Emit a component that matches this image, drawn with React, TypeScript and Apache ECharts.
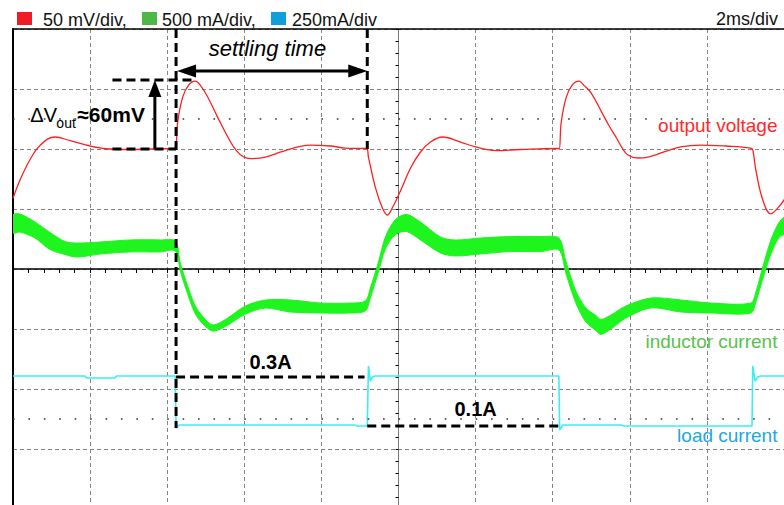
import React, { useEffect, useRef } from "react";
import * as echarts from "echarts";

// ---- channel scales (per division) ----
const V_PER_DIV = 50; // mV/div
const V_OFFSET = 2; // divisions
const IL_PER_DIV = 500; // mA/div
const IL_OFFSET = 0;
const IO_PER_DIV = 250; // mA/div
const IO_OFFSET = -3;

// ---- output voltage (deviation from regulated level, mV) vs time (ms) ----
const voltT = [-10, -9.82, -9.56, -9.3, -8.91, -8.52, -8.0, -7.48, -6.96, -6.44, -5.82, -5.78, -5.73, -5.6, -5.45, -5.27, -5.14, -4.96, -4.7, -4.36, -4.2, -4.03, -3.83, -3.45, -3.0, -2.29, -1.77, -1.38, -0.83, -0.78, -0.6, -0.42, -0.29, -0.16, 0.05, 0.31, 0.57, 0.83, 1.14, 1.61, 2.0, 2.52, 3.17, 4.13, 4.17, 4.22, 4.35, 4.5, 4.68, 4.81, 4.99, 5.25, 5.45, 5.64, 5.8, 5.95, 6.21, 6.5, 6.81, 7.32, 7.84, 8.49, 9.14, 9.19, 9.27, 9.45, 9.66, 9.87, 10.03];
const voltMv = [-41, -26, -9, 3, 10, 7, 2.5, 0, -0.4, 0, 0.4, 0.4, 22, 43, 53, 56.5, 53, 44, 27, 6, -1.5, -6.5, -8, -6.7, -2, 3.3, 2.5, 0.8, 0.4, -6.7, -32, -49, -55, -49, -35, -16, -2.5, 5.8, 10, 5.8, 1.7, -1.3, -0.4, 0.4, 0.4, 22, 43, 53, 56.5, 53, 47, 32, 20, 10, 1, -5, -7.5, -6.5, -3.3, 1.7, 3.3, 2.5, 0.8, -0.8, -17.5, -42.5, -54, -48, -41];

// ---- inductor current (mA, centre of ripple band) and ripple p-p (mA) ----
const indT = [-10, -9.82, -9.43, -9.04, -8.65, -8.34, -7.74, -6.96, -6.18, -5.79, -5.66, -5.53, -5.27, -5.01, -4.81, -4.49, -3.97, -3.45, -2.81, -2.03, -1.25, -0.86, -0.73, -0.52, -0.34, -0.08, 0.21, 0.57, 1.09, 1.48, 2.13, 2.91, 3.69, 4.16, 4.34, 4.6, 4.86, 5.12, 5.25, 5.51, 5.9, 6.55, 7.32, 8.1, 9.14, 9.27, 9.45, 9.66, 9.87, 10.03];
const indMa = [375, 383, 325, 233, 175, 158, 175, 192, 192, 192, 17, -117, -342, -450, -492, -450, -342, -292, -308, -325, -325, -308, -200, 17, 217, 350, 383, 317, 200, 175, 192, 208, 208, 208, 17, -233, -383, -450, -483, -442, -358, -283, -308, -325, -325, -233, -33, 183, 325, 367];
const indRipple = [150, 150, 133, 142, 108, 117, 100, 100, 100, 83, 67, 67, 67, 58, 50, 58, 67, 67, 100, 83, 83, 83, 83, 83, 100, 125, 142, 150, 133, 133, 133, 125, 125, 100, 100, 100, 117, 125, 125, 117, 100, 83, 100, 83, 83, 83, 100, 117, 125, 133];

// ---- load current (mA) ----
const loadT = [-10, -8.13, -8.1, -7.35, -7.32, -5.79, -5.77, -5.69, -1.12, -1.09, -0.81, -0.78, -0.73, -0.68, -0.6, 4.16, 4.18, 4.26, 5.79, 5.82, 9.17, 9.19, 9.25, 9.32, 9.4, 10.03];
const loadMa = [304, 304, 296, 296, 304, 304, 87, 100, 100, 96, 96, 346, 283, 300, 304, 304, 79, 100, 100, 96, 96, 346, 283, 300, 304, 304];

// ---- texts ----
const legendNames = ["50 mV/div,", "500 mA/div,", "250mA/div"];
const legendColors = ["#ee1d25", "#4db748", "#0e9fdc"];
const timeBase = "2ms/div";
const traceLabels = ["output voltage", "inductor current", "load current"];

// ---- annotation values (data units: ms, mV, mA) ----
const tLoadDown = -5.77;
const tSettled = -0.81;
const tLoadUpEnd = 4.21;
const tPeak = -5.27;
const tAnnoLeft = -7.42;
const tArrow = -6.32;
const peakMv = 57.5;
const lowSpikeMa = 87;
const highLoadMa = 300;
const lowLoadMa = 96;

const vDiv = (mv: number) => V_OFFSET + mv / V_PER_DIV;
const ilDiv = (ma: number) => IL_OFFSET + ma / IL_PER_DIV;
const ioDiv = (ma: number) => IO_OFFSET + ma / IO_PER_DIV;

const FONT = "'Liberation Sans', Arial, Helvetica, sans-serif";
const GREEN = "#1ef51e";

export default function App() {
  const ref = useRef<HTMLDivElement>(null);
  useEffect(() => {
    if (!ref.current) return;
    const chart = echarts.init(ref.current, null, { renderer: "svg" });
    const gridStyle = { color: "#858585", type: [4, 3] as number[], width: 1 };
    const option: any = {
      animation: false,
      backgroundColor: "#ffffff",
      grid: { left: 13, top: 29, width: 771, height: 480, outerBoundsMode: "none", containLabel: false },
      xAxis: [
        {
          type: "value",
          min: -10,
          max: 10,
          interval: 2,
          position: "bottom",
          axisLine: { show: true, onZero: true, lineStyle: { color: "#000", width: 1.5 } },
          axisTick: { show: true, length: 4, inside: false, lineStyle: { color: "#000", width: 1 } },
          minorTick: { show: true, splitNumber: 5, length: 4, lineStyle: { color: "#000", width: 1 } },
          axisLabel: { show: false },
          splitLine: { show: true, lineStyle: gridStyle },
        },
        {
          type: "value",
          min: -10,
          max: 10,
          interval: 2,
          position: "top",
          axisLine: { show: true, onZero: false, lineStyle: { color: "#000", width: 1.5 } },
          axisTick: { show: false },
          axisLabel: { show: false },
          splitLine: { show: false },
        },
      ],
      yAxis: [
        {
          type: "value",
          min: -4,
          max: 4,
          interval: 1,
          position: "left",
          axisLine: { show: true, onZero: true, lineStyle: { color: "#777", width: 1 } },
          axisTick: { show: true, length: 3, lineStyle: { color: "#000", width: 1 } },
          minorTick: { show: true, splitNumber: 5, length: 3, lineStyle: { color: "#000", width: 1 } },
          axisLabel: { show: false },
          splitLine: { show: true, lineStyle: gridStyle },
        },
        {
          type: "value",
          min: -4,
          max: 4,
          interval: 1,
          position: "left",
          axisLine: { show: true, onZero: false, lineStyle: { color: "#000", width: 2 } },
          axisTick: { show: false },
          axisLabel: { show: false },
          splitLine: { show: false },
        },
      ],
      series: [
        {
          name: legendNames[0],
          type: "line",
          xAxisIndex: 0,
          yAxisIndex: 0,
          data: voltT.map((t, i) => [t, vDiv(voltMv[i])]),
          showSymbol: false,
          smooth: 0.4,
          lineStyle: { color: "#ff1f1f", width: 1.3 },
          itemStyle: { color: "#ff1f1f" },
          z: 4,
          markLine: {
            silent: true,
            symbol: "none",
            label: { show: false },
            lineStyle: { color: "#333", width: 1.6, type: [1.6, 13.82] },
            data: [{ yAxis: 2.5 }, { yAxis: -2.5 }],
          },
        },
        {
          name: legendNames[1],
          type: "custom",
          coordinateSystem: "cartesian2d",
          xAxisIndex: 0,
          yAxisIndex: 0,
          clip: true,
          z: 3,
          data: indT.map((t, i) => [t, ilDiv(indMa[i])]),
          renderItem: (params: any, api: any) => {
            if (params.dataIndex !== 0) return null;
            const upper = indT.map((t, i) => api.coord([t, ilDiv(indMa[i] + indRipple[i] / 2)]));
            const lower = indT.map((t, i) => api.coord([t, ilDiv(indMa[i] - indRipple[i] / 2)])).reverse();
            return {
              type: "polygon",
              shape: { points: upper.concat(lower), smooth: 0.3 },
              style: { fill: GREEN, stroke: GREEN, lineWidth: 1 },
            };
          },
        },
        {
          name: legendNames[2],
          type: "line",
          data: loadT.map((t, i) => [t, ioDiv(loadMa[i])]),
          showSymbol: false,
          lineStyle: { color: "#3aeef4", width: 1.6 },
          itemStyle: { color: "#3aeef4" },
          z: 3,
        },
      ],
    };
    chart.setOption(option);

    const p = (t: number, d: number) => chart.convertToPixel({ seriesIndex: 0 }, [t, d]) as number[];
    const dash = (a: number[], b: number[]) => ({
      type: "line",
      z: 100,
      shape: { x1: a[0], y1: a[1], x2: b[0], y2: b[1] },
      style: { stroke: "#000", lineWidth: 3, lineDash: [9, 5] },
    });
    const solid = (a: number[], b: number[]) => ({
      type: "line",
      z: 100,
      shape: { x1: a[0], y1: a[1], x2: b[0], y2: b[1] },
      style: { stroke: "#000", lineWidth: 3 },
    });
    const tri = (pts: number[][]) => ({ type: "polygon", z: 101, shape: { points: pts }, style: { fill: "#000" } });
    const txt = (pos: number[], text: string, font: string, fill: string, align: string) => ({
      type: "text",
      z: 102,
      x: pos[0],
      y: pos[1],
      style: { text, font, fill, align, verticalAlign: "middle", textAlign: align, textVerticalAlign: "middle" },
    });

    const top = p(tLoadDown, 4);
    const stepBottom = p(tLoadDown, ioDiv(lowSpikeMa));
    const settleTop = p(tSettled, 4);
    const settleBottom = p(tSettled, vDiv(0));
    const peakL = p(tAnnoLeft, vDiv(peakMv));
    const peakR = p(tPeak, vDiv(peakMv));
    const baseL = p(tAnnoLeft, vDiv(0));
    const baseR = p(tLoadDown, vDiv(0));
    const arrBase = p(tArrow, vDiv(0));
    const arrTip = p(tArrow, vDiv(peakMv));
    const stL = p(tLoadDown, 3.3);
    const stR = p(tSettled, 3.3);
    const hiL = p(tLoadDown, ioDiv(highLoadMa));
    const hiR = p(-0.88, ioDiv(highLoadMa));
    const loL = p(tSettled, ioDiv(lowLoadMa));
    const loR = p(tLoadUpEnd, ioDiv(lowLoadMa));

    const dv = p(-9.55, 2.57);
    const legendX = [17, 142, 271];
    const legendTextX = [43, 162, 292];
    const graphic: any[] = [
      dash(top, stepBottom),
      dash(settleTop, settleBottom),
      dash(peakL, peakR),
      dash(baseL, baseR),
      dash(hiL, hiR),
      dash(loL, loR),
      solid(arrBase, [arrTip[0], arrTip[1] + 12]),
      tri([
        [arrTip[0], arrTip[1]],
        [arrTip[0] - 6.5, arrTip[1] + 17],
        [arrTip[0] + 6.5, arrTip[1] + 17],
      ]),
      solid([stL[0] + 10, stL[1]], [stR[0] - 10, stR[1]]),
      tri([
        [stL[0] + 1, stL[1]],
        [stL[0] + 20, stL[1] - 6.5],
        [stL[0] + 20, stL[1] + 6.5],
      ]),
      tri([
        [stR[0], stR[1]],
        [stR[0] - 19, stR[1] - 6.5],
        [stR[0] - 19, stR[1] + 6.5],
      ]),
      txt(p(-3.4, 3.68), "settling time", `italic 22px ${FONT}`, "#000", "center"),
      txt([dv[0], dv[1]], "ΔV", `20px ${FONT}`, "#000", "left"),
      txt([dv[0] + 26, dv[1] + 8], "out", `14px ${FONT}`, "#000", "left"),
      txt([dv[0] + 47, dv[1]], "≈60mV", `bold 21px ${FONT}`, "#000", "left"),
      txt(p(-3.32, -1.55), "0.3A", `bold 20px ${FONT}`, "#000", "center"),
      txt(p(2.0, -2.33), "0.1A", `bold 20px ${FONT}`, "#000", "center"),
      txt(p(9.83, 2.4), traceLabels[0], `19px ${FONT}`, "#ff2a2a", "right"),
      txt(p(9.83, -1.2), traceLabels[1], `19px ${FONT}`, "#57c24a", "right"),
      txt(p(9.83, -2.78), traceLabels[2], `19px ${FONT}`, "#1ea7e0", "right"),
      {
        type: "text",
        z: 102,
        right: 6,
        top: 10,
        style: { text: timeBase, font: `18px ${FONT}`, fill: "#111" },
      },
    ];
    legendNames.forEach((name, i) => {
      graphic.push({
        type: "rect",
        z: 102,
        shape: { x: legendX[i], y: 12, width: 15, height: 13 },
        style: { fill: legendColors[i] },
      });
      graphic.push(txt([legendTextX[i], 19.5], name, `18px ${FONT}`, "#111", "left"));
    });
    chart.setOption({ graphic });
    return () => chart.dispose();
  }, []);
  return (
    <div
      ref={ref}
      style={{ position: "fixed", left: 0, top: 0, width: 784, height: 505, background: "#fff" }}
    />
  );
}
